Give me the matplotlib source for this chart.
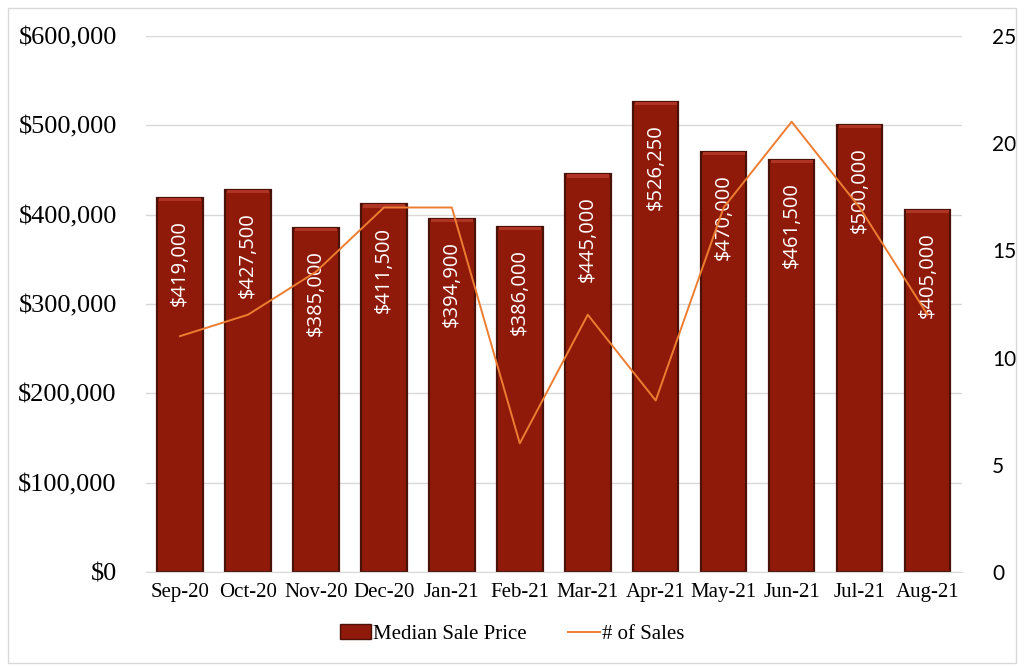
import matplotlib.pyplot as plt
import matplotlib.patches as mpatches
from matplotlib.ticker import FuncFormatter, MultipleLocator
import numpy as np

months = ['Sep-20', 'Oct-20', 'Nov-20', 'Dec-20', 'Jan-21', 'Feb-21',
          'Mar-21', 'Apr-21', 'May-21', 'Jun-21', 'Jul-21', 'Aug-21']
median_price = [419000, 427500, 385000, 411500, 394900, 386000,
                445000, 526250, 470000, 461500, 500000, 405000]
num_sales = [11, 12, 14, 17, 17, 6, 12, 8, 17, 21, 17, 12]

bar_color = '#8f1a0a'
edge_color = '#4a1208'
line_color = '#ed7d31'
serif = ['Liberation Serif', 'DejaVu Serif']

fig = plt.figure(figsize=(10.24, 6.71), dpi=100)
ax = fig.add_axes([0.1426, 0.1475, 0.7964, 0.7989])
ax2 = ax.twinx()

x = np.arange(len(months))
ax.bar(x, median_price, width=0.67, color=bar_color, edgecolor=edge_color,
       linewidth=1.6, zorder=2)
# lighter bevel strip along the top of each bar
cap = 3500
ax.bar(x, [cap] * len(x), bottom=[v - cap for v in median_price], width=0.62,
       color='#b03424', linewidth=0, zorder=3)

for xi, v in zip(x, median_price):
    ax.annotate(f'${v:,.0f}', (xi, v), xytext=(0, -16), textcoords='offset points',
                rotation=90, ha='center', va='top', color='white',
                fontsize=14.5, family=['Open Sans', 'DejaVu Sans'], zorder=5)

ax2.plot(x, num_sales, color=line_color, linewidth=1.4, zorder=4)

ax.set_xlim(-0.5, len(months) - 0.5)
ax.set_ylim(0, 600000)
ax2.set_ylim(0, 25)
ax.yaxis.set_major_locator(MultipleLocator(100000))
ax2.yaxis.set_major_locator(MultipleLocator(5))
ax.yaxis.set_major_formatter(FuncFormatter(lambda v, p: f'${v:,.0f}'))
ax.grid(axis='y', color='#d9d9d9', linewidth=1, zorder=0)
ax.set_axisbelow(True)

ax.set_xticks(x)
ax.set_xticklabels(months, family=serif, fontsize=15)
for lab in ax.get_yticklabels():
    lab.set_family(serif)
    lab.set_fontsize(19)
for lab in ax2.get_yticklabels():
    lab.set_family(['Lato', 'DejaVu Sans'])
    lab.set_fontsize(15)

ax.tick_params(axis='x', length=0, pad=8)
ax.tick_params(axis='y', length=0, pad=21)
ax2.tick_params(axis='y', length=0, pad=22)
for a in (ax, ax2):
    for s in ('top', 'left', 'right'):
        a.spines[s].set_visible(False)
ax2.spines['bottom'].set_visible(False)
ax.spines['bottom'].set_color('#d9d9d9')

handles = [mpatches.Patch(facecolor=bar_color, edgecolor=edge_color, label='Median Sale Price'),
           plt.Line2D([], [], color=line_color, linewidth=1.4, label='# of Sales')]
fig.legend(handles=handles, loc='center', bbox_to_anchor=(0.5, 0.055), ncol=2,
           frameon=False, prop={'family': serif, 'size': 15}, handlelength=1.5,
           handletextpad=0.1, columnspacing=2.0)

fig.patches.append(mpatches.Rectangle((0.008, 0.012), 0.984, 0.976, transform=fig.transFigure,
                                      fill=False, edgecolor='#d9d9d9', linewidth=1))

fig.savefig('out.png', dpi=100)
